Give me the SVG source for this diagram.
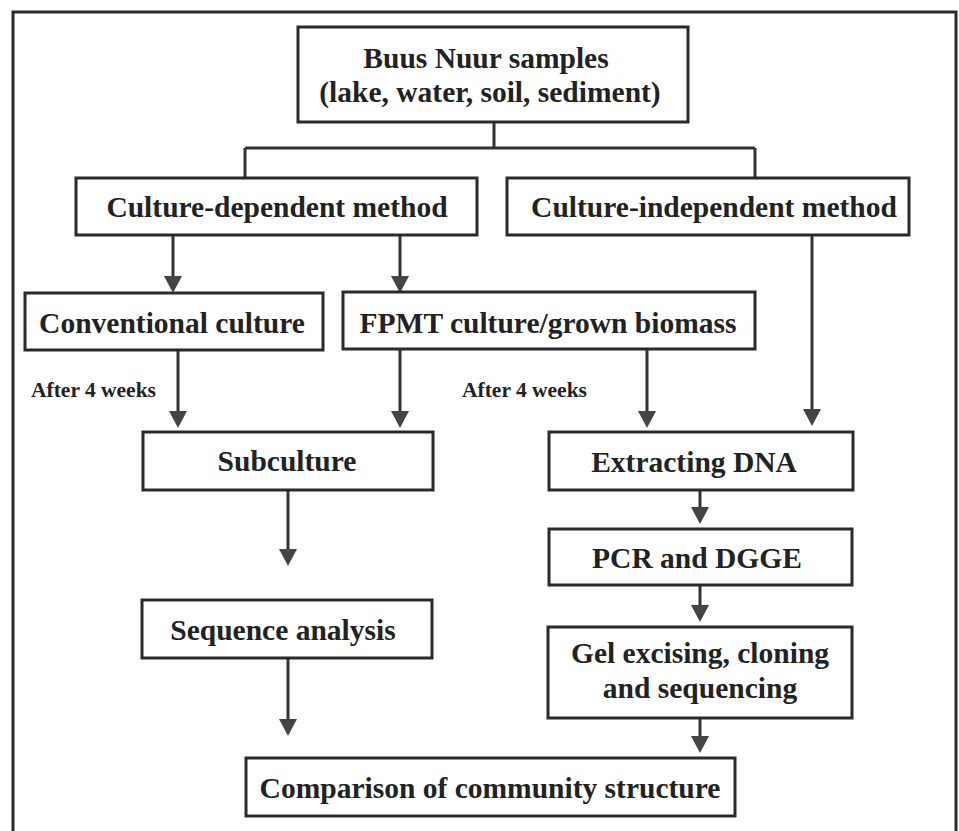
<svg xmlns="http://www.w3.org/2000/svg" width="959" height="831" viewBox="0 0 959 831">
<style>
.box{fill:#fff;stroke:#2a2a2a;stroke-width:3}
.t{font-family:"Liberation Serif","Times New Roman",serif;font-weight:bold;font-size:29.5px;fill:#222;text-anchor:middle}
.s{font-family:"Liberation Serif","Times New Roman",serif;font-weight:bold;font-size:21.5px;fill:#222}
.c{fill:none;stroke:#333;stroke-width:3}
.a{fill:none;stroke:#333;stroke-width:3;marker-end:url(#ah)}
</style>
<defs>
<marker id="ah" markerUnits="userSpaceOnUse" markerWidth="18" markerHeight="18" viewBox="0 0 17 18" refX="8" refY="9" orient="auto">
<path d="M0,0 L17,9 L0,18 z" fill="#444"/>
</marker>
</defs>
<rect x="0" y="0" width="959" height="831" fill="#fff"/>
<rect x="13" y="12" width="943" height="840" fill="none" stroke="#2a2a2a" stroke-width="3"/>
<g id="connectors">
<path class="c" d="M494,122 V148 M245,148 H755 M245,148 V178 M755,148 V178"/>
<path class="a" d="M173,235 V284"/>
<path class="a" d="M400,235 V284"/>
<path class="a" d="M812,235 V417"/>
<path class="a" d="M178,350 V419"/>
<path class="a" d="M400,349 V419"/>
<path class="a" d="M647,349 V419"/>
<path class="a" d="M700,490 V515"/>
<path class="a" d="M700,585 V613"/>
<path class="a" d="M700,718 V744"/>
<path class="a" d="M288,490 V557"/>
<path class="a" d="M288,658 V727"/>
</g>
<g id="labels">
<text class="s" x="31" y="397">After 4 weeks</text>
<text class="s" x="462" y="397">After 4 weeks</text>
</g>
<g id="samples">
<rect class="box" x="298" y="27" width="390" height="95"/>
<text class="t" x="486" y="68">Buus Nuur samples</text>
<text class="t" x="490" y="102">(lake, water, soil, sediment)</text>
</g>
<g id="culture-dependent">
<rect class="box" x="76" y="178" width="401" height="57"/>
<text class="t" x="277" y="217">Culture-dependent method</text>
</g>
<g id="culture-independent">
<rect class="box" x="507" y="178" width="402" height="57"/>
<text class="t" x="714" y="217">Culture-independent method</text>
</g>
<g id="conventional">
<rect class="box" x="25" y="293" width="298" height="57"/>
<text class="t" x="172" y="333">Conventional culture</text>
</g>
<g id="fpmt">
<rect class="box" x="343" y="292" width="412" height="57"/>
<text class="t" x="548" y="333">FPMT culture/grown biomass</text>
</g>
<g id="subculture">
<rect class="box" x="143" y="432" width="290" height="58"/>
<text class="t" x="287" y="471">Subculture</text>
</g>
<g id="extracting">
<rect class="box" x="549" y="432" width="304" height="58"/>
<text class="t" x="694" y="472">Extracting DNA</text>
</g>
<g id="pcr">
<rect class="box" x="549" y="529" width="303" height="56"/>
<text class="t" x="697" y="568">PCR and DGGE</text>
</g>
<g id="gel">
<rect class="box" x="548" y="627" width="304" height="91"/>
<text class="t" x="700" y="663">Gel excising, cloning</text>
<text class="t" x="700" y="698">and sequencing</text>
</g>
<g id="sequence">
<rect class="box" x="142" y="600" width="290" height="58"/>
<text class="t" x="283" y="640">Sequence analysis</text>
</g>
<g id="comparison">
<rect class="box" x="246" y="758" width="489" height="58"/>
<text class="t" x="490" y="798">Comparison of community structure</text>
</g>
</svg>
